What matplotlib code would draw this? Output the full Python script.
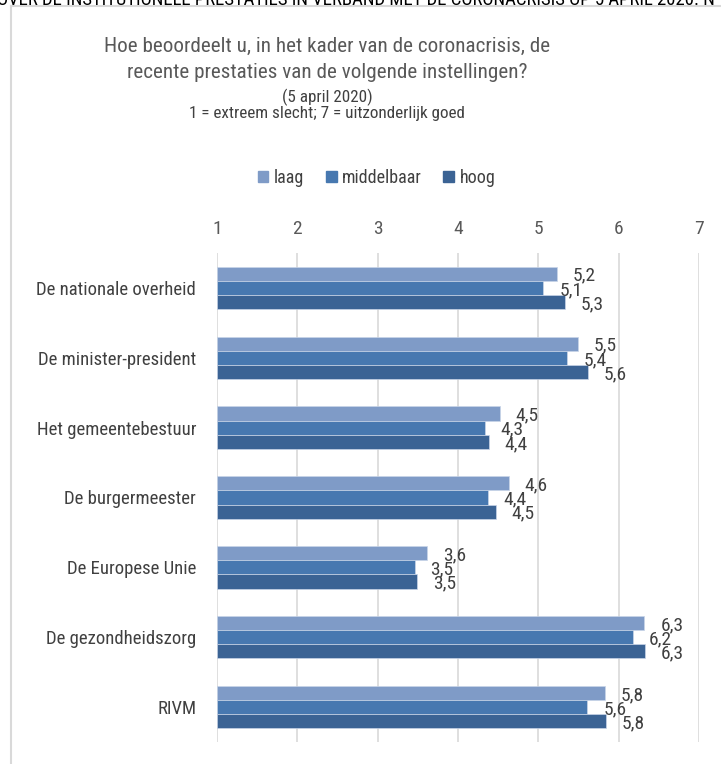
import matplotlib
matplotlib.use('Agg')
import matplotlib.pyplot as plt
from matplotlib.patches import Patch
from matplotlib.lines import Line2D
import numpy as np

plt.rcParams['font.family'] = ['Roboto Condensed', 'Liberation Sans', 'DejaVu Sans']

categories = ['De nationale overheid', 'De minister-president', 'Het gemeentebestuur',
              'De burgermeester', 'De Europese Unie', 'De gezondheidszorg', 'RIVM']
series = ['laag', 'middelbaar', 'hoog']
laag = [5.23, 5.49, 4.52, 4.63, 3.62, 6.32, 5.83]
middelbaar = [5.06, 5.36, 4.33, 4.37, 3.46, 6.18, 5.61]
hoog = [5.33, 5.62, 4.38, 4.47, 3.49, 6.33, 5.84]
ticks = [1, 2, 3, 4, 5, 6, 7]

colors = ['#7F9BC7', '#4778B0', '#3B6394']
W, H = 721, 764

fig = plt.figure(figsize=(W / 100, H / 100), dpi=100)
ax = fig.add_axes([217 / W, 1 - 742 / H, (699 - 217) / W, (742 - 253) / H])

y = np.arange(len(categories))
bh = 0.203
for i, (name, vals) in enumerate(zip(series, [laag, middelbaar, hoog])):
    pos = y + (i - 1) * bh
    ax.barh(pos, np.array(vals) - 1, left=1, height=bh, color=colors[i],
            edgecolor='#c9d5e8', linewidth=0.5, zorder=3, label=name)
    for p, v in zip(pos, vals):
        ax.annotate(f'{v:.1f}'.replace('.', ','), (v, p), xytext=(11.5, -1.5),
                    textcoords='offset points', ha='left', va='center',
                    fontsize=14, color='#404040', zorder=4)

ax.set_xlim(1, 7)
ax.set_ylim(len(categories) - 0.5, -0.5)
ax.set_xticks(ticks)
ax.xaxis.tick_top()
ax.tick_params(axis='x', length=0, pad=11, labelsize=14, colors='#595959')
ax.set_yticks(y)
ax.set_yticklabels(categories)
ax.tick_params(axis='y', length=0, pad=15, labelsize=13.5, colors='#404040')
ax.grid(axis='x', color='#d9d9d9', linewidth=1.2, zorder=0)
for s in ax.spines.values():
    s.set_visible(False)

# titles
cx = 327 / W
fig.text(cx, 1 - 52 / H, 'Hoe beoordeelt u, in het kader van de coronacrisis, de',
         ha='center', va='baseline', fontsize=15.2, color='#595959')
fig.text(cx, 1 - 78 / H, 'recente prestaties van de volgende instellingen?',
         ha='center', va='baseline', fontsize=15.2, color='#595959')
fig.text(cx, 1 - 102 / H, '(5 april 2020)', ha='center', va='baseline',
         fontsize=12.3, color='#404040')
fig.text(cx, 1 - 118 / H, '1 = extreem slecht; 7 = uitzonderlijk goed', ha='center',
         va='baseline', fontsize=12.3, color='#404040')

handles = [Patch(color=c) for c in colors]
fig.legend(handles, series, loc='center', bbox_to_anchor=(376.5 / W, 1 - 178 / H),
           ncol=3, frameon=False, fontsize=13, handlelength=0.6, handleheight=0.6,
           handletextpad=0.3, columnspacing=1.2, labelcolor='#404040')

# clipped header text and frame of the chart area
fig.text(-3 / W, 1 - 5 / H,
         'OVER DE INSTITUTIONELE PRESTATIES IN VERBAND MET DE CORONACRISIS OP 5 APRIL 2020. N',
         ha='left', va='baseline', fontsize=13.5, color='black')
fig.add_artist(Line2D([11 / W, 11 / W], [0, 1 - 6 / H], color='#d9d9d9', linewidth=1.5))
fig.add_artist(Line2D([11 / W, 1], [1 - 6 / H, 1 - 6 / H], color='#d9d9d9', linewidth=1.5))

fig.savefig('out.png', dpi=100)
